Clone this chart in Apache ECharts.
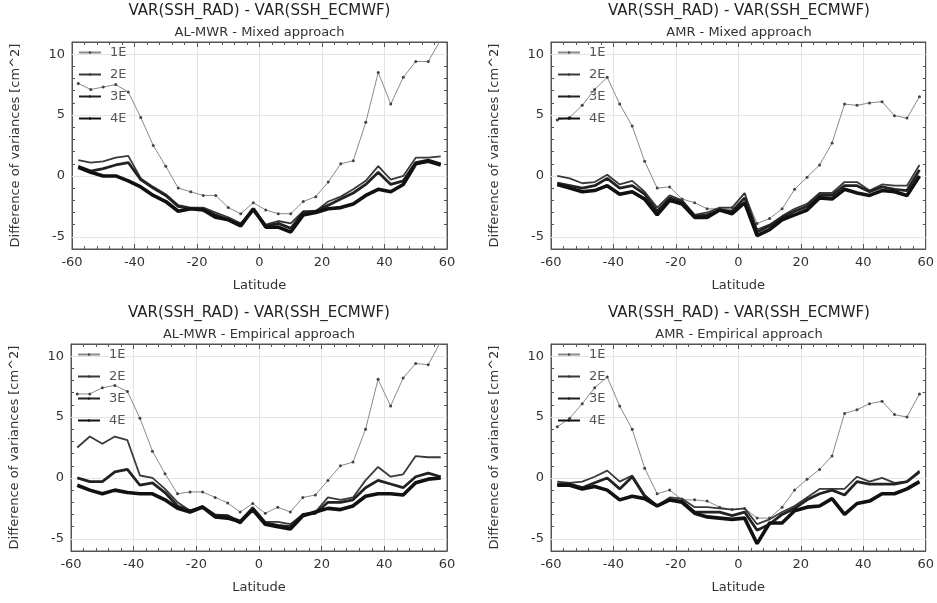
<!DOCTYPE html>
<html>
<head>
<meta charset="utf-8">
<title>VAR(SSH_RAD) - VAR(SSH_ECMWF)</title>
<script src="https://cdn.jsdelivr.net/npm/echarts@6/dist/echarts.min.js"></script>
<style>
html,body{margin:0;padding:0;background:#fff;}
#chart{width:937px;height:603px;}
</style>
</head>
<body>
<div id="chart"></div>
<script>
// latitude bins (deg)
var lat = [-58,-54,-50,-46,-42,-38,-34,-30,-26,-22,-18,-14,-10,-6,-2,2,6,10,14,18,22,26,30,34,38,42,46,50,54,58];
var names = ['1E','2E','3E','4E'];
var gridLevels = [-5,0,5,10];

// AL-MWR - Mixed approach
var alMixed1E = [7.6,7.1,7.3,7.5,6.9,4.8,2.5,0.8,-1.0,-1.3,-1.6,-1.6,-2.6,-3.1,-2.2,-2.8,-3.1,-3.1,-2.1,-1.7,-0.5,1.0,1.25,4.4,8.5,5.9,8.1,9.4,9.4,11.2];
var alMixed2E = [1.3,1.1,1.2,1.5,1.65,-0.2,-0.9,-1.5,-2.4,-2.6,-2.6,-3.0,-3.4,-3.9,-2.7,-4.0,-3.7,-3.9,-2.9,-2.9,-2.1,-1.7,-1.1,-0.4,0.8,-0.3,0.0,1.5,1.5,1.6];
var alMixed3E = [0.8,0.4,0.6,0.9,1.1,-0.3,-1.0,-1.6,-2.5,-2.7,-2.7,-3.2,-3.6,-4.0,-2.8,-4.1,-3.9,-4.3,-3.0,-2.9,-2.4,-1.9,-1.4,-0.7,0.3,-0.7,-0.4,1.1,1.3,1.0];
var alMixed4E = [0.7,0.3,0.0,0.0,-0.4,-0.9,-1.6,-2.1,-2.9,-2.7,-2.8,-3.4,-3.6,-4.1,-2.7,-4.2,-4.2,-4.6,-3.2,-3.0,-2.7,-2.6,-2.3,-1.6,-1.1,-1.3,-0.7,1.0,1.2,0.9];

// AMR - Mixed approach
var amrMixed1E = [4.6,4.8,5.8,7.1,8.1,5.9,4.1,1.2,-1.0,-0.9,-1.9,-2.2,-2.7,-2.7,-2.6,-1.5,-3.9,-3.5,-2.7,-1.1,-0.1,0.9,2.7,5.9,5.8,6.0,6.1,4.95,4.75,6.5];
var amrMixed2E = [0.0,-0.2,-0.6,-0.5,0.1,-0.7,-0.4,-1.3,-2.6,-1.6,-2.0,-3.2,-3.0,-2.6,-2.6,-1.4,-4.4,-4.0,-3.3,-2.7,-2.3,-1.4,-1.4,-0.5,-0.5,-1.2,-0.7,-0.8,-0.8,0.9];
var amrMixed3E = [-0.6,-0.8,-1.0,-0.8,-0.2,-1.0,-0.8,-1.5,-2.9,-1.8,-2.1,-3.3,-3.2,-2.8,-2.9,-1.8,-4.6,-4.1,-3.4,-2.9,-2.5,-1.6,-1.6,-0.8,-0.8,-1.3,-0.9,-1.1,-1.2,0.5];
var amrMixed4E = [-0.7,-1.0,-1.3,-1.2,-0.8,-1.5,-1.3,-1.9,-3.2,-2.0,-2.3,-3.4,-3.4,-2.8,-3.1,-2.2,-4.9,-4.4,-3.6,-3.2,-2.8,-1.8,-1.9,-1.1,-1.4,-1.6,-1.2,-1.3,-1.6,0.0];

// AL-MWR - Empirical approach
var alEmp1E = [6.9,6.9,7.4,7.6,7.1,4.9,2.2,0.35,-1.3,-1.15,-1.15,-1.6,-2.05,-2.8,-2.1,-2.9,-2.4,-2.8,-1.6,-1.4,-0.2,1.0,1.3,4.0,8.1,5.9,8.2,9.4,9.3,11.2];
var alEmp2E = [2.5,3.4,2.8,3.4,3.1,0.2,0.0,-0.9,-2.0,-2.7,-2.3,-3.0,-3.1,-3.5,-2.4,-3.6,-3.6,-3.8,-3.0,-2.8,-1.6,-1.8,-1.6,-0.2,0.9,0.1,0.3,1.8,1.7,1.7];
var alEmp3E = [0.0,-0.3,-0.3,0.5,0.7,-0.6,-0.4,-1.2,-2.3,-2.7,-2.4,-3.1,-3.1,-3.7,-2.5,-3.7,-3.9,-4.0,-3.0,-2.9,-2.0,-2.0,-1.8,-0.8,-0.2,-0.5,-0.8,0.1,0.4,0.1];
var alEmp4E = [-0.6,-1.0,-1.3,-1.0,-1.2,-1.3,-1.3,-1.8,-2.5,-2.8,-2.4,-3.2,-3.3,-3.6,-2.6,-3.8,-4.0,-4.2,-3.1,-2.8,-2.5,-2.6,-2.3,-1.5,-1.3,-1.3,-1.4,-0.4,-0.1,0.0];

// AMR - Empirical approach
var amrEmp1E = [4.2,4.9,6.1,7.4,8.3,5.9,4.0,0.8,-1.3,-1.0,-1.8,-1.8,-1.9,-2.4,-2.6,-2.5,-3.3,-3.3,-2.4,-1.0,-0.1,0.7,1.8,5.3,5.6,6.1,6.3,5.2,5.0,6.9];
var amrEmp2E = [-0.3,-0.4,-0.3,0.1,0.6,-0.3,0.2,-1.4,-2.3,-1.6,-1.7,-2.4,-2.4,-2.5,-2.6,-2.5,-3.8,-3.4,-2.8,-2.3,-1.6,-0.9,-0.9,-0.9,0.1,-0.3,0.0,-0.4,-0.3,0.6];
var amrEmp3E = [-0.5,-0.5,-0.8,-0.4,0.0,-0.9,0.1,-1.5,-2.3,-1.8,-1.9,-2.8,-2.8,-2.8,-3.1,-2.8,-4.3,-3.8,-3.0,-2.5,-1.8,-1.3,-1.0,-1.4,-0.3,-0.5,-0.5,-0.5,-0.3,0.5];
var amrEmp4E = [-0.6,-0.6,-0.9,-0.7,-1.0,-1.8,-1.5,-1.7,-2.3,-1.8,-2.0,-2.9,-3.2,-3.3,-3.4,-3.3,-5.4,-3.7,-3.7,-2.7,-2.4,-2.3,-1.7,-3.0,-2.1,-1.9,-1.3,-1.3,-0.9,-0.3];

var mainTitle = 'VAR(SSH_RAD) - VAR(SSH_ECMWF)';
var panels = [
	{sub:'AL-MWR - Mixed approach', lines:[alMixed1E,alMixed2E,alMixed3E,alMixed4E]},
	{sub:'AMR - Mixed approach', lines:[amrMixed1E,amrMixed2E,amrMixed3E,amrMixed4E]},
	{sub:'AL-MWR - Empirical approach', lines:[alEmp1E,alEmp2E,alEmp3E,alEmp4E]},
	{sub:'AMR - Empirical approach', lines:[amrEmp1E,amrEmp2E,amrEmp3E,amrEmp4E]}
];

// layout of the 4 plot boxes [left, top, width, height]
var boxes = [[72,42,375,207],[551,42,376,207],[71,344,376,207],[551,344,376,207]];
var lineColors = ['#8a8a8a','#3a3a3a','#222','#111'];
var lineWidths = [1,1.8,2.8,3.6];
var font = 'DejaVu Sans';
var frame = '#555';

var option = {
	backgroundColor:'#fff',
	animation:false,
	textStyle:{fontFamily:font},
	grid:[], xAxis:[], yAxis:[], legend:[], series:[], graphic:[]
};

function toPoints(vals){
	var pts = [];
	for(var j=0;j<lat.length;j++) pts.push([lat[j], vals[j]]);
	return pts;
}

for(var i=0;i<4;i++){
	var b = boxes[i];
	var cx = b[0] + b[2]/2;
	option.grid.push({left:b[0], top:b[1], width:b[2], height:b[3], show:true, borderColor:frame, borderWidth:1, backgroundColor:'transparent'});

	// bottom + mirrored top x axis
	option.xAxis.push({
		gridIndex:i, type:'value', position:'bottom', min:-60, max:60, interval:20,
		name:'Latitude', nameLocation:'middle', nameGap:30,
		nameTextStyle:{fontSize:13, color:'#333', fontFamily:font},
		axisLine:{show:true, onZero:false, lineStyle:{color:frame}},
		axisTick:{show:true, inside:true, length:5, lineStyle:{color:frame}},
		minorTick:{show:true, splitNumber:5, length:3, lineStyle:{color:frame}},
		axisLabel:{margin:7, fontSize:13, color:'#333', fontFamily:font},
		splitLine:{show:true, lineStyle:{color:'#e4e4e4', width:1}}
	});
	option.xAxis.push({
		gridIndex:i, type:'value', position:'top', min:-60, max:60, interval:20,
		axisLine:{show:true, onZero:false, lineStyle:{color:frame}},
		axisTick:{show:true, inside:true, length:5, lineStyle:{color:frame}},
		minorTick:{show:true, splitNumber:5, length:3, lineStyle:{color:frame}},
		axisLabel:{show:false}, splitLine:{show:false}
	});
	// left + mirrored right y axis
	option.yAxis.push({
		gridIndex:i, type:'value', position:'left', min:-6, max:11, interval:1,
		name:'Difference of variances [cm^2]', nameLocation:'middle', nameGap:50,
		nameTextStyle:{fontSize:13, color:'#333', fontFamily:font},
		axisLine:{show:true, onZero:false, lineStyle:{color:frame}},
		axisTick:{show:true, inside:true, length:3, lineStyle:{color:frame}},
		axisLabel:{margin:7, fontSize:13, color:'#333', fontFamily:font,
			formatter:function(v){ return v % 5 === 0 ? String(v) : ''; }},
		splitLine:{show:false}
	});
	option.yAxis.push({
		gridIndex:i, type:'value', position:'right', min:-6, max:11, interval:1,
		axisLine:{show:true, onZero:false, lineStyle:{color:frame}},
		axisTick:{show:true, inside:true, length:3, lineStyle:{color:frame}},
		axisLabel:{show:false}, splitLine:{show:false}
	});

	option.legend.push({
		left:b[0]+6, top:b[1]+4, orient:'vertical', padding:0,
		itemWidth:22, itemHeight:3, itemGap:9, selectedMode:false,
		data:names,
		textStyle:{fontSize:13, color:'#555', fontFamily:font, padding:[0,0,0,4]}
	});

	for(var k=0;k<4;k++){
		var s = {
			type:'line', name:names[k],
			xAxisIndex:i*2, yAxisIndex:i*2,
			data:toPoints(panels[i].lines[k]),
			symbol:k===0 ? 'circle' : 'none', symbolSize:3,
			lineStyle:{width:lineWidths[k], color:lineColors[k]},
			itemStyle:{color:k===0 ? '#444' : lineColors[k]},
			clip:true, z:2+k
		};
		if(k===0){
			// horizontal grid lines at the labelled levels
			var ml = [];
			for(var g=0;g<gridLevels.length;g++) ml.push({yAxis:gridLevels[g]});
			s.markLine = {silent:true, symbol:['none','none'], z:1, label:{show:false},
				lineStyle:{color:'#e4e4e4', type:'solid', width:1}, data:ml};
		}
		option.series.push(s);
	}

	option.graphic.push({type:'text', x:cx, y:b[1]-31, style:{text:mainTitle, font:'15px "DejaVu Sans"', fill:'#222', align:'center', verticalAlign:'middle'}});
	option.graphic.push({type:'text', x:cx, y:b[1]-9, style:{text:panels[i].sub, font:'13px "DejaVu Sans"', fill:'#333', align:'center', verticalAlign:'middle'}});
}

var myChart = echarts.init(document.getElementById('chart'));
myChart.setOption(option);
</script>
</body>
</html>
